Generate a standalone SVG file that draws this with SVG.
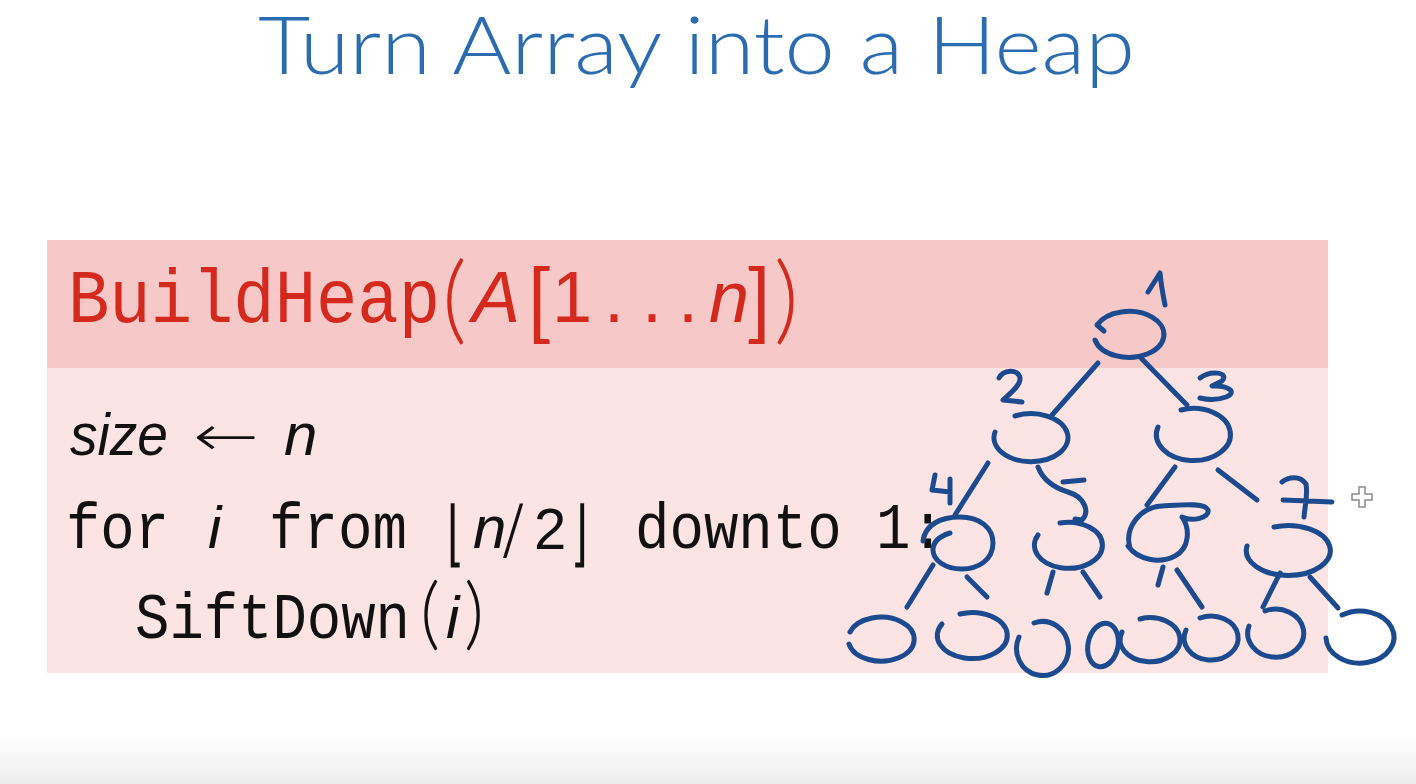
<svg xmlns="http://www.w3.org/2000/svg" width="1416" height="784" viewBox="0 0 1416 784">
  <defs>
    <linearGradient id="floor" x1="0" y1="0" x2="0" y2="1">
      <stop offset="0" stop-color="#ffffff"/>
      <stop offset="1" stop-color="#ededed"/>
    </linearGradient>
    <style>
      .title { font-family: Lato, "Open Sans", "DejaVu Sans", sans-serif; font-weight: 300; font-size: 80px; fill: #2b6cb0; }
      .tt-head { font-family: "Liberation Mono", "DejaVu Sans Mono", monospace; font-size: 76px; fill: #d42a1e; }
      .m-head { font-family: "Liberation Sans", "DejaVu Sans", sans-serif; fill: #d42a1e; }
      .mi-head { font-family: "Liberation Sans", "DejaVu Sans", sans-serif; font-style: italic; font-size: 72px; fill: #d42a1e; }
      .delim-head { font-family: Lato, "Liberation Sans", sans-serif; font-weight: 300; fill: #d42a1e; }
      .brk-head { font-family: Lato, "Liberation Sans", sans-serif; font-weight: 400; fill: #d42a1e; }
      .tt { font-family: "Liberation Mono", "DejaVu Sans Mono", monospace; font-size: 64px; fill: #111111; }
      .mi { font-family: "Liberation Sans", "DejaVu Sans", sans-serif; font-style: italic; font-size: 60px; fill: #111111; }
      .m { font-family: "Liberation Sans", "DejaVu Sans", sans-serif; fill: #111111; }
      .delim { font-family: Lato, "Liberation Sans", sans-serif; font-weight: 300; fill: #111111; }
      .thin { font-family: "DejaVu Sans", sans-serif; font-weight: 200; fill: #111111; }
      .ink { fill: none; stroke: #1c4a8e; stroke-width: 5; stroke-linecap: round; stroke-linejoin: round; }
    </style>
  </defs>

  <rect x="0" y="0" width="1416" height="784" fill="#ffffff"/>
  <rect x="0" y="735" width="1416" height="49" fill="url(#floor)"/>

  <!-- slide title -->
  <text class="title" x="258" y="74" textLength="877" lengthAdjust="spacingAndGlyphs">Turn Array into a Heap</text>

  <!-- algorithm block -->
  <g id="algorithm">
    <rect x="47" y="240" width="1281" height="128" fill="#f6c8c8"/>
    <rect x="47" y="368" width="1281" height="305" fill="#fce4e4"/>

    <g id="header">
      <text class="tt-head" x="68" y="322" textLength="372" lengthAdjust="spacingAndGlyphs">BuildHeap</text>
      <text class="delim-head" x="442" y="332" font-size="96">(</text>
      <text class="mi-head" x="472" y="322">A</text>
      <text class="brk-head" x="526" y="332" font-size="86">[</text>
      <text class="m-head" x="552" y="322" font-size="72">1</text>
      <text class="m-head" x="604" y="322" font-size="72">.</text>
      <text class="m-head" x="642" y="322" font-size="72">.</text>
      <text class="m-head" x="678" y="322" font-size="72">.</text>
      <text class="mi-head" x="709" y="322">n</text>
      <text class="brk-head" x="746" y="332" font-size="86">]</text>
      <text class="delim-head" x="774" y="332" font-size="96">)</text>
    </g>

    <g id="body">
      <text class="mi" x="70" y="455" textLength="98" lengthAdjust="spacingAndGlyphs">size</text>
      <text class="thin" x="193" y="456" font-size="58" textLength="66" lengthAdjust="spacingAndGlyphs">←</text>
      <text class="mi" x="284" y="455">n</text>

      <text class="tt" x="66" y="548" textLength="103" lengthAdjust="spacingAndGlyphs">for</text>
      <text class="mi" x="208" y="548">i</text>
      <text class="tt" x="269" y="548" textLength="138" lengthAdjust="spacingAndGlyphs">from</text>
      <text class="thin" transform="translate(447 558) scale(0.6 1)" font-size="72">⌊</text>
      <text class="mi" x="473" y="548">n</text>
      <text class="thin" x="502" y="552" font-size="66">/</text>
      <text class="m" x="534" y="549" font-size="58">2</text>
      <text class="thin" transform="translate(571 558) scale(0.6 1)" font-size="72">⌋</text>
      <text class="tt" x="635" y="548" textLength="310" lengthAdjust="spacingAndGlyphs">downto 1:</text>

      <text class="tt" x="135" y="638" textLength="275" lengthAdjust="spacingAndGlyphs">SiftDown</text>
      <text class="delim" x="420" y="640" font-size="78">(</text>
      <text class="mi" x="446" y="638">i</text>
      <text class="delim" x="464" y="640" font-size="78">)</text>
    </g>
  </g>

  <!-- hand-drawn heap: connectors -->
  <g id="connectors" class="ink">
    <path d="M1098,363 L1052,415"/>
    <path d="M1140,357 L1187,405"/>
    <path d="M988,463 L955,515"/>
    <path d="M1038,467 C1043,480 1055,488 1068,492 C1085,497 1090,512 1082,520 L1075,519"/>
    <path d="M1175,467 L1147,505"/>
    <path d="M1218,470 L1257,500"/>
    <path d="M933,565 L907,607"/>
    <path d="M967,577 L987,597"/>
    <path d="M1053,572 L1047,593"/>
    <path d="M1083,572 L1100,597"/>
    <path d="M1163,567 L1158,585"/>
    <path d="M1177,570 L1202,607"/>
    <path d="M1280,573 L1263,607"/>
    <path d="M1310,577 L1338,608"/>
  </g>

  <!-- hand-drawn heap: nodes -->
  <g id="node-1" class="ink">
    <path d="M1104,331 L1097,325 A35,23 0 1 1 1095,340"/>
    <path d="M1148,292 L1160,273 C1161,283 1163,295 1165,305"/>
  </g>
  <g id="node-2" class="ink">
    <path d="M1015,416 A37,24 0 1 1 995,432"/>
    <path d="M999,378 C1003,370 1018,368 1020,378 C1021,386 1008,395 1003,400 L1022,402"/>
  </g>
  <g id="node-3" class="ink">
    <path d="M1181,410 A37,26 0 1 1 1158,427"/>
    <path d="M1200,378 C1210,370 1230,372 1222,381 L1212,386 C1228,385 1238,392 1226,397 C1218,400 1208,400 1200,398"/>
  </g>
  <g id="node-4" class="ink">
    <path d="M923,541 C925,525 940,517 960,517 C980,517 993,528 993,543 C993,560 978,569 962,569 C945,569 933,560 933,550 C933,543 937,537 950,533"/>
    <path d="M935,475 L932,490 L950,492 M950,479 L950,503"/>
  </g>
  <g id="node-5" class="ink">
    <path d="M1060,523 A34,23 0 1 1 1038,535"/>
    <path d="M1063,482 L1084,480"/>
  </g>
  <g id="node-6" class="ink">
    <path d="M1130,548 C1124,528 1140,507 1162,506 C1180,505 1205,502 1208,510 C1210,518 1192,522 1182,517 C1190,528 1190,548 1175,556 C1160,564 1138,560 1128,546"/>
  </g>
  <g id="node-7" class="ink">
    <path d="M1274,527 A42,25 0 1 1 1247,546"/>
    <path d="M1282,482 C1288,477 1300,475 1306,484 C1308,495 1305,505 1304,517 M1283,500 L1332,502"/>
  </g>
  <g id="leaf-8" class="ink"><path d="M850,632 A33,22 0 1 1 849,644"/></g>
  <g id="leaf-9" class="ink"><path d="M960,614 A35,23 0 1 1 942,624"/></g>
  <g id="leaf-10" class="ink"><path d="M1034,623 A26,27 0 1 1 1019,637"/></g>
  <g id="leaf-11" class="ink"><ellipse cx="1103" cy="645" rx="15" ry="22" transform="rotate(12 1103 645)"/></g>
  <g id="leaf-12" class="ink"><path d="M1140,619 A30,22 0 1 1 1122,632"/></g>
  <g id="leaf-13" class="ink"><path d="M1200,618 A27,22 0 1 1 1186,630"/></g>
  <g id="leaf-14" class="ink"><path d="M1265,611 A28,24 0 1 1 1249,626"/></g>
  <g id="leaf-15" class="ink"><path d="M1342,615 A34,26 0 1 1 1326,638"/></g>

  <!-- pointer cursor -->
  <path d="M1359,487 h6 v7 h7 v6 h-7 v7 h-6 v-7 h-7 v-6 h7 z" fill="#ffffff" stroke="#8a8a8a" stroke-width="1.5"/>
</svg>
